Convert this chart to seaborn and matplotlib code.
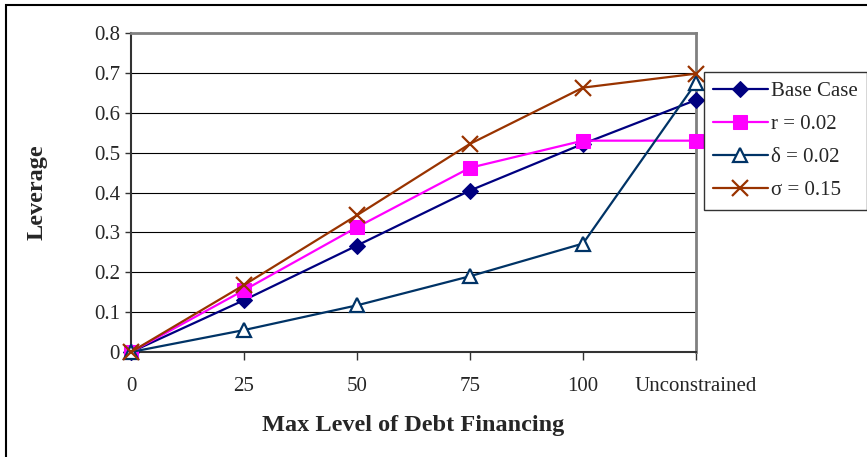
import matplotlib
matplotlib.use("Agg")
import matplotlib.pyplot as plt
import seaborn as sns
import pandas as pd

# data
categories = ["0", "25", "50", "75", "100", "Unconstrained"]
base_case = [0.0, 0.13, 0.267, 0.405, 0.522, 0.632]
r_002 = [0.0, 0.155, 0.313, 0.462, 0.530, 0.530]
delta_002 = [0.0, 0.055, 0.117, 0.190, 0.272, 0.675]
sigma_015 = [0.0, 0.168, 0.343, 0.522, 0.663, 0.698]
y_ticks = [0, 0.1, 0.2, 0.3, 0.4, 0.5, 0.6, 0.7, 0.8]
y_tick_labels = ["0", "0.1", "0.2", "0.3", "0.4", "0.5", "0.6", "0.7", "0.8"]

sns.set_style("white")
plt.rcParams["font.family"] = ["Liberation Serif", "DejaVu Serif"]

fig = plt.figure(figsize=(8.67, 4.57), dpi=100)
ax = fig.add_axes([131 / 867, 1 - 352 / 457, (696 - 131) / 867, (352 - 33) / 457])

pos = list(range(len(categories)))
series = [
    ("Base Case", base_case, "#000080", dict(marker="D", markersize=8, markerfacecolor="#000080", markeredgecolor="#000080")),
    ("r = 0.02", r_002, "#FF00FF", dict(marker="s", markersize=10, markerfacecolor="#FF00FF", markeredgecolor="#FF00FF")),
    ("\u03b4 = 0.02", delta_002, "#003366", dict(marker="^", markersize=10, markerfacecolor="white", markeredgecolor="#003366", markeredgewidth=1.6)),
    ("\u03c3 = 0.15", sigma_015, "#993300", dict(marker="x", markersize=11, markeredgecolor="#993300", markeredgewidth=1.6)),
]

for name, vals, col, mk in series:
    df = pd.DataFrame({"pos": pos, "val": vals})
    sns.lineplot(data=df, x="pos", y="val", color=col, linewidth=1.6, label=name,
                 ax=ax, clip_on=False, zorder=3, **mk)

ax.set_xlim(0, 5)
ax.set_ylim(0, 0.8)
ax.set_xticks(pos)
ax.set_xticklabels(categories)
ax.set_yticks(y_ticks)
ax.set_yticklabels(y_tick_labels)
ax.tick_params(axis="x", direction="out", length=6, width=1, color="#333333", pad=12, labelsize=15)
ax.tick_params(axis="y", direction="out", length=4, width=1, color="#333333", pad=4, labelsize=15)
ax.tick_params(bottom=True, left=True)
ax.grid(axis="y", color="black", linewidth=0.8)
ax.grid(axis="x", visible=False)

for side in ["top", "right"]:
    ax.spines[side].set_color("#808080")
    ax.spines[side].set_linewidth(2)
for side in ["left", "bottom"]:
    ax.spines[side].set_color("#333333")
    ax.spines[side].set_linewidth(1.5)

ax.set_xlabel("Max Level of Debt Financing", fontsize=17.5, fontweight="bold", labelpad=14)
ax.set_ylabel("Leverage", fontsize=17.5, fontweight="bold", labelpad=33)

leg = ax.legend(loc="upper left", bbox_to_anchor=(704 / 867, 1 - 72 / 457), bbox_transform=fig.transFigure,
                frameon=True, fancybox=False, fontsize=15, borderaxespad=0, handlelength=2.6,
                handletextpad=0.15, labelspacing=0.65, borderpad=0.45)
leg.get_frame().set_edgecolor("black")
leg.get_frame().set_linewidth(1)

# outer chart border
fig.patches.append(plt.Rectangle((6 / 867, -0.01), 1.0, 1 - 5 / 457 + 0.01, transform=fig.transFigure,
                                 fill=False, edgecolor="black", linewidth=1.5))

fig.savefig("out.png", dpi=100)
